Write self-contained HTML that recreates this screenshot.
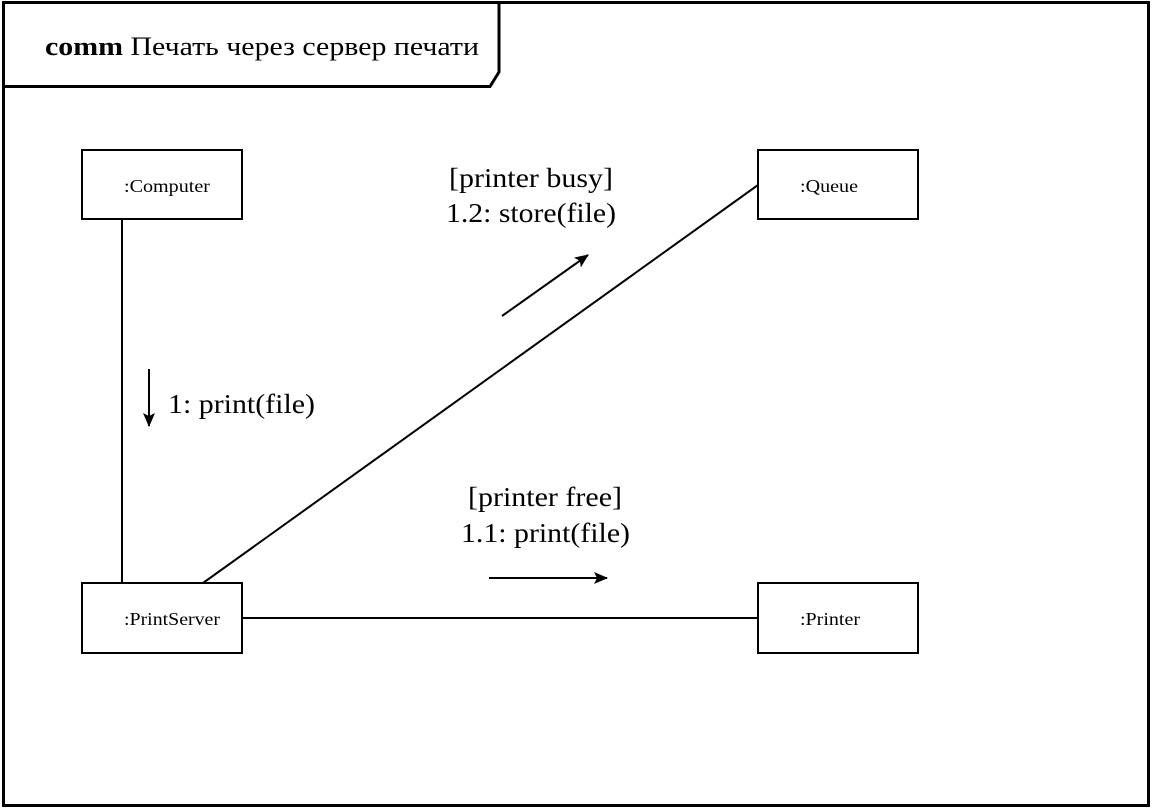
<!DOCTYPE html>
<html><head><meta charset="utf-8"><style>html,body{margin:0;padding:0;background:#fff}svg{display:block}</style></head>
<body>
<svg width="1152" height="809" xmlns="http://www.w3.org/2000/svg" font-family="Liberation Serif, serif">
<defs><marker id="a" viewBox="0 0 14 12" refX="13" refY="6" markerWidth="14" markerHeight="12" markerUnits="userSpaceOnUse" orient="auto"><path d="M0,0 L14,6 L0,12 L3,6 z" fill="#000"/></marker></defs>
<rect x="3.5" y="2.5" width="1145" height="803" fill="#fff" stroke="#000" stroke-width="3"/>
<path d="M3.5,86.5 H490 L499,72 V2.5" fill="none" stroke="#000" stroke-width="3"/>
<text x="45" y="55" font-size="26" textLength="434" lengthAdjust="spacingAndGlyphs"><tspan font-weight="bold">comm</tspan> Печать через сервер печати</text>
<g stroke="#000" stroke-width="2" fill="none">
<line x1="122" y1="220" x2="122" y2="583"/>
<line x1="203" y1="583" x2="758" y2="185"/>
<line x1="243" y1="618" x2="758" y2="618"/>
<rect x="82" y="150" width="160" height="69" fill="#fff"/>
<rect x="758" y="150" width="160" height="69" fill="#fff"/>
<rect x="82" y="583" width="160" height="70" fill="#fff"/>
<rect x="758" y="583" width="160" height="70" fill="#fff"/>
<line x1="149" y1="369" x2="149" y2="426" marker-end="url(#a)"/>
<line x1="502" y1="316" x2="588" y2="255" marker-end="url(#a)"/>
<line x1="489" y1="578" x2="607" y2="578" marker-end="url(#a)"/>
</g>
<g font-size="18">
<text x="124" y="192" textLength="86" lengthAdjust="spacingAndGlyphs">:Computer</text>
<text x="800" y="192" textLength="58" lengthAdjust="spacingAndGlyphs">:Queue</text>
<text x="124" y="625" textLength="96" lengthAdjust="spacingAndGlyphs">:PrintServer</text>
<text x="800" y="625" textLength="60" lengthAdjust="spacingAndGlyphs">:Printer</text>
</g>
<g font-size="27">
<text x="168" y="413" textLength="147" lengthAdjust="spacingAndGlyphs">1: print(file)</text>
<text x="449" y="187" textLength="164" lengthAdjust="spacingAndGlyphs">[printer busy]</text>
<text x="446" y="222" textLength="170" lengthAdjust="spacingAndGlyphs">1.2: store(file)</text>
<text x="468" y="506" textLength="154" lengthAdjust="spacingAndGlyphs">[printer free]</text>
<text x="461" y="542" textLength="169" lengthAdjust="spacingAndGlyphs">1.1: print(file)</text>
</g>
</svg>
</body></html>
